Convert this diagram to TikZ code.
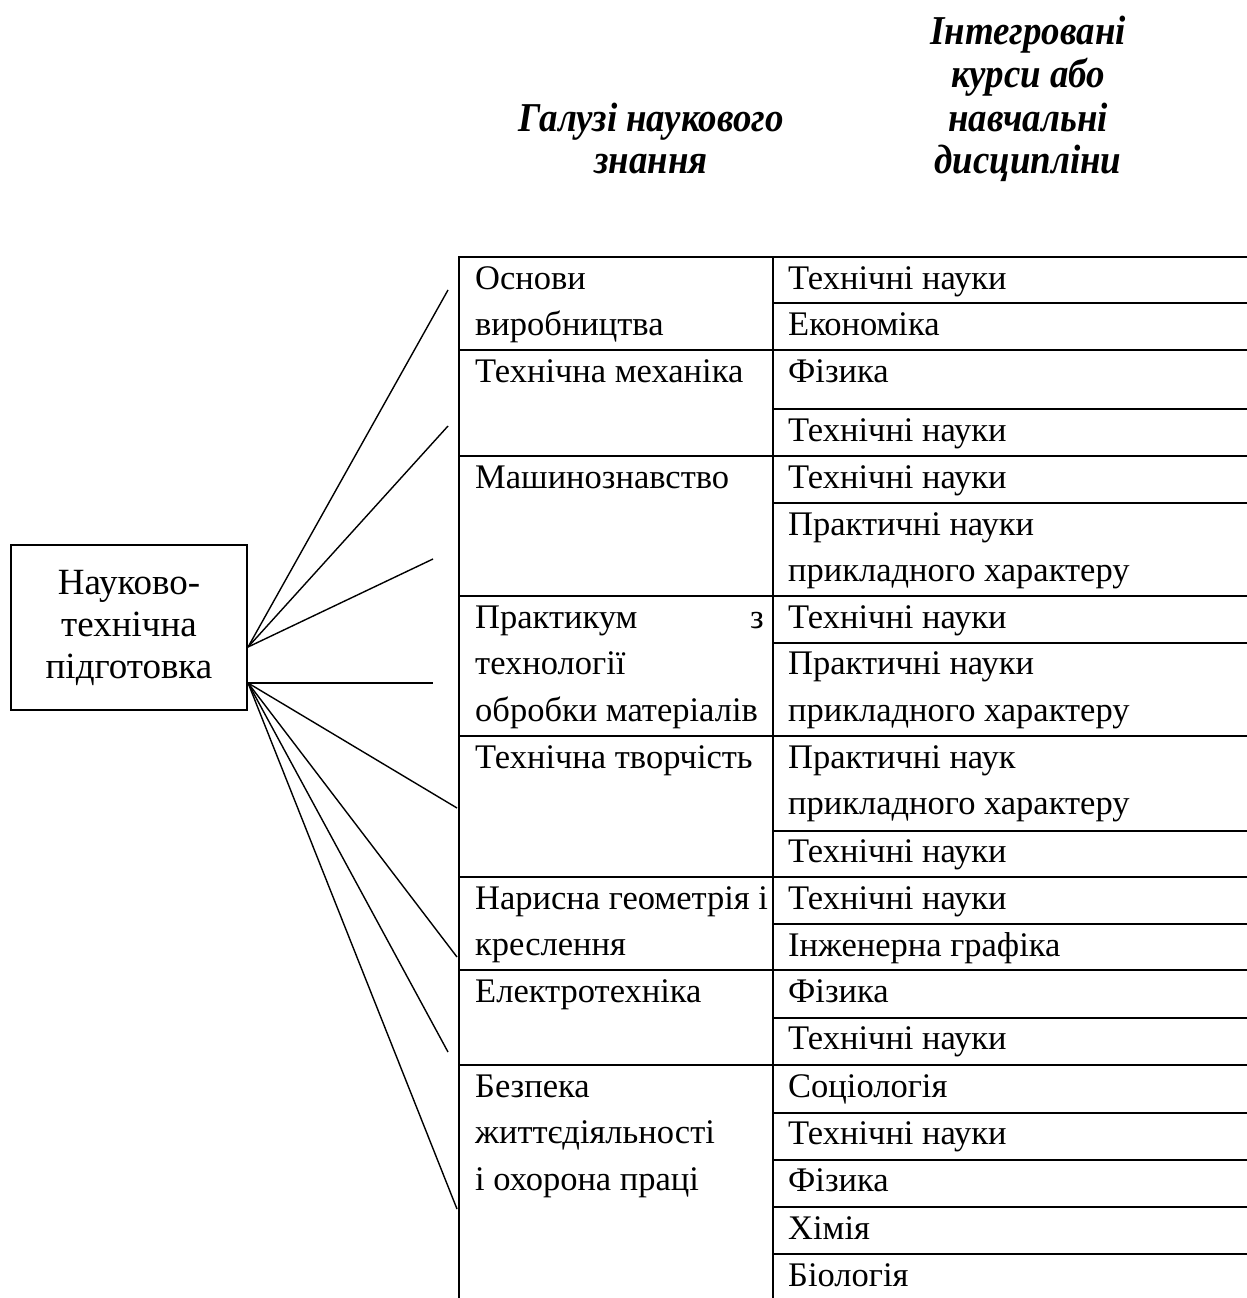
\documentclass[tikz,border=0pt]{standalone}
\usepackage{fontspec}
\setmainfont{Liberation Serif}
\newfontfamily\hdrfont{Liberation Serif}[FakeStretch=0.9]
\begin{document}
\begin{tikzpicture}[x=1pt,y=-1pt,
  cell/.style={anchor=base west, inner sep=0pt, font=\fontsize{34.5}{46.5}\selectfont},
  hdr/.style={anchor=base, inner sep=0pt, font=\hdrfont\fontsize{41}{42.5}\selectfont\bfseries\itshape},
  gridline/.style={line width=2pt, line cap=rect},
  fan/.style={line width=1.4pt},
  rootbox/.style={draw, line width=1.6pt, minimum width=236.5pt, minimum height=165pt,
    inner sep=0pt, align=center, font=\fontsize{37}{42}\selectfont}]
\useasboundingbox (0,0) rectangle (1247,1298);

% headers
\node[hdr] (h1a) at (1028,45) {Інтегровані};
\node[hdr] (h1b) at (1028,88) {курси або};
\node[hdr] (h1c) at (1028,131) {навчальні};
\node[hdr] (h1d) at (1028,173.5) {дисципліни};
\node[hdr] (h2a) at (651,131) {Галузі наукового};
\node[hdr] (h2b) at (651,173.5) {знання};

% root box
\node[rootbox] (root) at (129,627.5) {Науково-\\технічна\\підготовка};

% table grid
\draw[gridline] (459,257) -- (459,1300);
\draw[gridline] (773,257) -- (773,1300);
\draw[gridline] (459,257) -- (1250,257);
\foreach \yy in {350,456,596,736,877,970,1065}
  \draw[gridline] (459,\yy) -- (773,\yy);
\foreach \yy in {303,350,409,456,503,596,642.5,736,830.6,877,924,970,1017.8,1065,1112.9,1159.6,1207.2,1254.3}
  \draw[gridline] (773,\yy) -- (1250,\yy);

% left column
\node[cell] (l1a) at (475,289) {Основи};
\node[cell] (l1b) at (475,335.5) {виробництва};
\node[cell] (l2) at (475,382) {Технічна механіка};
\node[cell] (l3) at (475,488) {Машинознавство};
\node[cell] (l4a) at (475,628) {Практикум};
\node[cell,anchor=base east] (l4z) at (764,628) {з};
\node[cell] (l4b) at (475,674.5) {технології};
\node[cell] (l4c) at (475,721) {обробки матеріалів};
\node[cell] (l5) at (475,768) {Технічна творчість};
\node[cell] (l6a) at (475,909) {Нарисна геометрія і};
\node[cell] (l6b) at (475,955.5) {креслення};
\node[cell] (l7) at (475,1002) {Електротехніка};
\node[cell] (l8a) at (475,1097) {Безпека};
\node[cell] (l8b) at (475,1143.5) {життєдіяльності};
\node[cell] (l8c) at (475,1190) {і охорона праці};

% right column
\node[cell] (r1) at (788,289) {Технічні науки};
\node[cell] (r2) at (788,335) {Економіка};
\node[cell] (r3) at (788,382) {Фізика};
\node[cell] (r4) at (788,441) {Технічні науки};
\node[cell] (r5) at (788,488) {Технічні науки};
\node[cell] (r6a) at (788,535) {Практичні науки};
\node[cell] (r6b) at (788,581.5) {прикладного характеру};
\node[cell] (r7) at (788,628) {Технічні науки};
\node[cell] (r8a) at (788,674.5) {Практичні науки};
\node[cell] (r8b) at (788,721) {прикладного характеру};
\node[cell] (r9a) at (788,768) {Практичні наук};
\node[cell] (r9b) at (788,814.5) {прикладного характеру};
\node[cell] (r10) at (788,862.6) {Технічні науки};
\node[cell] (r11) at (788,909) {Технічні науки};
\node[cell] (r12) at (788,956) {Інженерна графіка};
\node[cell] (r13) at (788,1002) {Фізика};
\node[cell] (r14) at (788,1049.8) {Технічні науки};
\node[cell] (r15) at (788,1097) {Соціологія};
\node[cell] (r16) at (788,1144.9) {Технічні науки};
\node[cell] (r17) at (788,1191.6) {Фізика};
\node[cell] (r18) at (788,1239.2) {Хімія};
\node[cell] (r19) at (788,1286.3) {Біологія};

% fan connectors
\coordinate (s1) at ([yshift=-19.5pt]root.east);
\coordinate (s2) at ([yshift=-55.5pt]root.east);
\coordinate (e1) at (448,290);
\coordinate (e2) at (448,426);
\coordinate (e3) at (433,559);
\coordinate (e4) at (433,683);
\coordinate (e5) at (457,808);
\coordinate (e6) at (457,957);
\coordinate (e7) at (448,1052);
\coordinate (e8) at (457,1209);
\foreach \e in {e1,e2,e3} \draw[fan] (s1) -- (\e);
\foreach \e in {e4,e5,e6,e7,e8} \draw[fan] (s2) -- (\e);
\end{tikzpicture}
\end{document}
